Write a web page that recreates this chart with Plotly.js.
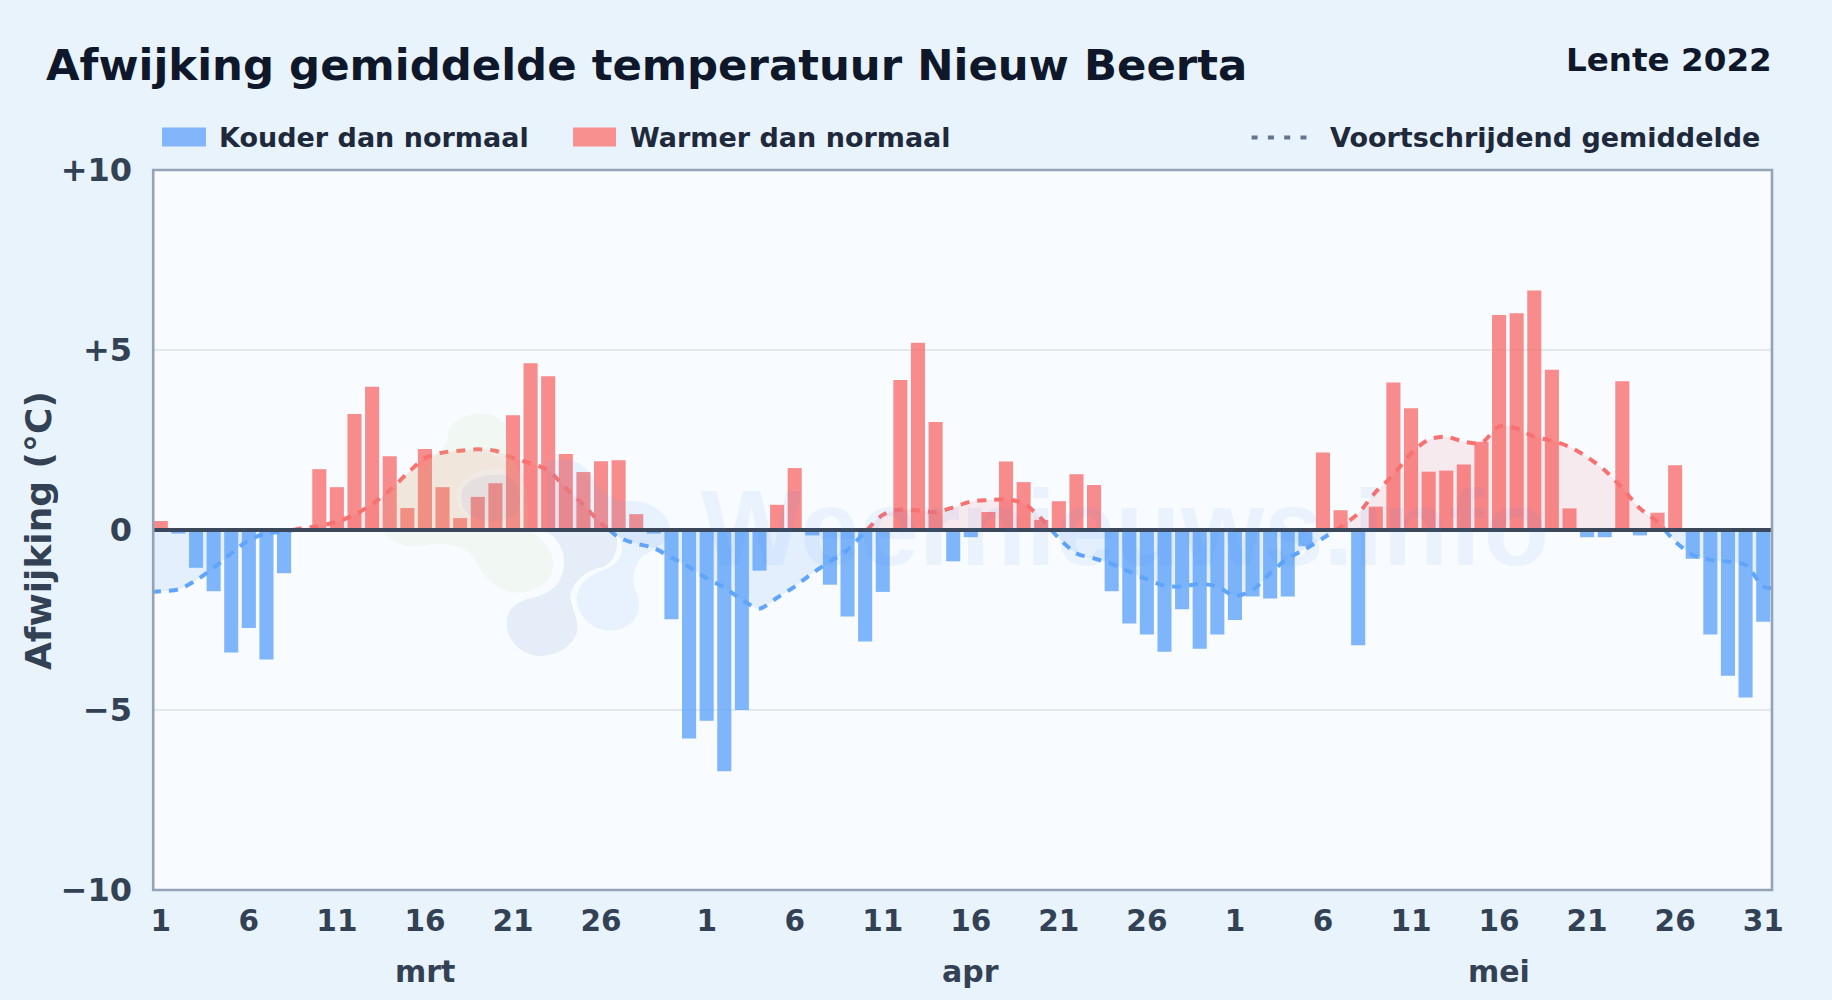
<!DOCTYPE html>
<html>
<head>
<meta charset="utf-8">
<script src="https://cdn.plot.ly/plotly-3.0.1.min.js"></script>
<style>html,body{margin:0;padding:0;background:#e8f3fc;overflow:hidden}#chart{width:1832px;height:1000px}</style>
</head>
<body>
<div id="chart"></div>
<script>
const chartTitle = "Afwijking gemiddelde temperatuur Nieuw Beerta";
const seasonLabel = "Lente 2022";
const yAxisTitle = "Afwijking (°C)";
const legendCold = "Kouder dan normaal";
const legendWarm = "Warmer dan normaal";
const legendAvg = "Voortschrijdend gemiddelde";
const watermarkText = "Weernieuws.info";

const tickDays = [0,5,10,15,20,25,31,36,41,46,51,56,61,66,71,76,81,86,91];
const tickDayLabels = ["1","6","11","16","21","26","1","6","11","16","21","26","1","6","11","16","21","26","31"];
const months = ["mrt","apr","mei"];
const monthCentres = [15,46,76];
const yTicks = [-10,-5,0,5,10];
const yTickLabels = ["−10","−5","0","+5","+10"];

const marchDeviation = [0.25,-0.1,-1.05,-1.7,-3.4,-2.72,-3.6,-1.2,0,1.69,1.19,3.22,3.98,2.05,0.61,2.25,1.19,0.33,0.92,1.30,3.19,4.63,4.27,2.11,1.61,1.91,1.94,0.44,-0.1,-2.48,-5.79];
const aprilDeviation = [-5.3,-6.7,-5.0,-1.13,0.7,1.72,-0.15,-1.52,-2.4,-3.1,-1.72,4.17,5.2,3.0,-0.87,-0.2,0.5,1.9,1.33,0.28,0.8,1.55,1.25,-1.7,-2.6,-2.9,-3.38,-2.2,-3.3,-2.9];
const mayDeviation = [-2.5,-1.85,-1.9,-1.85,-0.45,2.15,0.55,-3.2,0.65,4.1,3.38,1.62,1.65,1.82,2.45,5.97,6.02,6.65,4.45,0.6,-0.2,-0.2,4.13,-0.15,0.48,1.8,-0.8,-2.9,-4.05,-4.65,-2.55];

const marchAverage = [-1.7,-1.65,-1.4,-1.05,-0.65,-0.28,-0.1,-0.05,0.05,0.11,0.23,0.42,0.72,1.1,1.57,2.0,2.15,2.2,2.24,2.2,2.0,1.85,1.66,1.16,0.7,0.18,-0.2,-0.38,-0.5,-0.77,-1.03];
const aprilAverage = [-1.34,-1.6,-1.94,-2.18,-1.88,-1.57,-1.2,-0.88,-0.55,-0.05,0.42,0.57,0.54,0.5,0.63,0.79,0.83,0.85,0.74,0.32,-0.23,-0.65,-0.79,-0.94,-1.16,-1.37,-1.55,-1.57,-1.5,-1.57];
const mayAverage = [-1.83,-1.67,-1.2,-0.79,-0.53,-0.23,0.09,0.46,1.06,1.53,2.13,2.51,2.59,2.45,2.42,2.88,2.82,2.59,2.48,2.31,2.03,1.66,1.16,0.6,0.23,-0.32,-0.69,-0.83,-0.88,-0.97,-1.57];
const averageAtLeftEdge = -1.72;
const averageAtRightEdge = -1.62;

const deviation = marchDeviation.concat(aprilDeviation, mayDeviation);
const average = marchAverage.concat(aprilAverage, mayAverage);
const days = deviation.map((_, i) => i);

// moving average split at its zero crossings, one trace per sign
const avgX = [-0.5], avgWarm = [null], avgCold = [averageAtLeftEdge];
average.forEach((v, i) => {
  if (i > 0 && average[i-1] * v < 0) {
    const prev = average[i-1];
    avgX.push(i - 1 + prev / (prev - v));
    avgWarm.push(0); avgCold.push(0);
  }
  avgX.push(i);
  avgWarm.push(v >= 0 ? v : null);
  avgCold.push(v < 0 ? v : null);
});
avgX.push(91.5); avgWarm.push(null); avgCold.push(averageAtRightEdge);

const W = 1832, H = 1000;
const L = 152, R = 1772, T = 169.5, B = 890.4;
const fx = x => (x - L) / (R - L), fy = y => (B - y) / (B - T);

// logo watermark drawn in crop-pixel coordinates
function logoPath(pts) {
  return pts.replace(/(-?[\d.]+) (-?[\d.]+)/g, (m, a, b) =>
    fx(360 + a / 3).toFixed(5) + " " + fy(390 + b / 3).toFixed(5));
}
function blob(d, color) {
  return {type:"path", xref:"paper", yref:"paper", layer:"above", path:logoPath(d), fillcolor:color, line:{width:0}};
}
function rect(x0,x1,y0,y1,color){
  return {type:"rect", xref:"paper", yref:"paper", x0:fx(x0), x1:fx(x1), y0:fy(y0), y1:fy(y1), fillcolor:color, line:{width:0}};
}

const shapes = [
  blob("M265 130 C270 90 330 65 380 72 C430 78 450 110 445 170 C450 200 470 220 500 300 C505 380 500 420 520 430 C570 460 590 510 575 550 C555 600 480 620 430 600 C385 580 360 540 345 510 C320 465 250 455 200 465 C140 480 90 460 70 420 C40 350 90 290 120 270 C200 220 260 190 265 130 Z", "rgba(190,225,150,0.10)"),
  blob("M110 300 C130 240 200 190 290 185 C350 180 420 190 470 240 C400 220 320 240 290 300 C280 350 320 390 370 410 C300 420 180 420 120 400 C100 370 100 330 110 300 Z", "rgba(250,180,110,0.06)"),
  blob("M305 310 C310 270 370 250 430 255 C480 265 490 330 470 370 C440 400 370 400 330 375 C310 360 300 340 305 310 Z", "rgba(130,120,190,0.09)"),
  blob("M440 700 C440 650 480 630 530 620 C590 605 620 560 610 490 C600 460 580 430 555 425 L770 425 C775 470 770 510 730 530 C680 540 640 570 630 620 C635 660 660 690 650 730 C630 780 580 800 530 798 C480 790 440 750 440 700 Z", "rgba(90,140,200,0.12)"),
  blob("M560 215 C600 200 660 205 690 250 C720 300 740 320 790 335 C850 320 920 360 930 410 C925 450 890 480 850 495 C820 530 810 570 830 610 C850 660 830 710 760 722 C700 725 650 680 650 620 C655 580 690 555 730 540 C790 520 800 470 770 425 L560 425 Z", "rgba(96,165,250,0.10)"),
  {type:"line", xref:"paper", yref:"y", x0:fx(153), x1:fx(1772), y0:0, y1:0, layer:"above", line:{color:"#3b475a", width:4}},
  {type:"rect", xref:"paper", yref:"paper", x0:fx(153.2), x1:1, y0:0, y1:1, layer:"above", fillcolor:"rgba(0,0,0,0)", line:{color:"#94a3b8", width:2.6}},
  rect(162,206,127,146,"#81b6fb"),
  rect(573,616,127,146,"#f99090"),
  {type:"line", xref:"paper", yref:"paper", x0:fx(1251.6), x1:fx(1307), y0:fy(137), y1:fy(137), line:{color:"#64748b", width:4, dash:"6px,10.3px"}}
];

function note(text, x, y, size, color, anchor, extra) {
  return Object.assign({text, xref:"paper", yref:"paper", x:fx(x), y:fy(y), showarrow:false, xanchor:anchor, yanchor:"middle",
    font:{family:"DejaVu Sans", size, color, weight:700}}, extra || {});
}
const annotations = [
  note(chartTitle, 44, 64, 43.4, "#0f172a", "left"),
  note(seasonLabel, 1774, 59, 32.6, "#0f172a", "right"),
  note(legendCold, 216.7, 137, 27, "#1e293b", "left"),
  note(legendWarm, 627.7, 137, 27, "#1e293b", "left"),
  note(legendAvg, 1327.7, 137, 27, "#1e293b", "left"),
  note(yAxisTitle, 38, 530, 36, "#334155", "center", {textangle:-90}),
  {text:watermarkText, xref:"paper", yref:"paper", x:fx(1125), y:fy(528), showarrow:false, xanchor:"center", yanchor:"middle",
   font:{family:"Liberation Sans", size:107, color:"rgba(59,130,246,0.07)", weight:700}}
].concat(months.map((m, i) => ({text:m, xref:"x", yref:"paper", x:monthCentres[i], y:fy(972), showarrow:false, xanchor:"center", yanchor:"middle",
   font:{family:"DejaVu Sans", size:30, color:"#334155", weight:700}})));

const traces = [
  {type:"bar", x:days, y:deviation.map(v => v < 0 ? v : null), width:0.8, marker:{color:"rgba(96,165,250,0.8)", line:{width:0}}, name:legendCold, hoverinfo:"y"},
  {type:"bar", x:days, y:deviation.map(v => v >= 0 ? v : null), width:0.8, marker:{color:"rgba(248,113,113,0.8)", line:{width:0}}, name:legendWarm, hoverinfo:"y"},
  {type:"scatter", mode:"lines", x:avgX, y:avgCold, fill:"tozeroy", fillcolor:"rgba(96,165,250,0.13)", line:{color:"#60a5fa", width:4, dash:"9px,8px", shape:"spline", smoothing:0.8}, name:legendAvg, hoverinfo:"y"},
  {type:"scatter", mode:"lines", x:avgX, y:avgWarm, fill:"tozeroy", fillcolor:"rgba(239,68,68,0.09)", line:{color:"#f87171", width:4, dash:"9px,8px", shape:"spline", smoothing:0.8}, name:legendAvg, hoverinfo:"y"}
];

const layout = {
  width:W, height:H,
  paper_bgcolor:"#e8f3fc", plot_bgcolor:"#f8fbff",
  margin:{l:L, r:W-R, t:T, b:H-B, pad:0},
  showlegend:false, barmode:"overlay", bargap:0.2,
  font:{family:"DejaVu Sans"},
  xaxis:{range:[-0.5,91.5], tickmode:"array", tickvals:tickDays, ticktext:tickDayLabels, tickangle:0, ticks:"", showgrid:false, zeroline:false,
    showline:false, ticklabelstandoff:10,
    tickfont:{family:"DejaVu Sans", size:29.5, color:"#334155", weight:700}},
  yaxis:{range:[-10,10], tickmode:"array", tickvals:yTicks, ticktext:yTickLabels, ticks:"", showgrid:true, gridcolor:"#e2e8f0", gridwidth:2, zeroline:false,
    showline:false, ticklabelstandoff:19,
    tickfont:{family:"DejaVu Sans", size:32, color:"#334155", weight:700}},
  shapes, annotations
};
Plotly.newPlot("chart", traces, layout, {displayModeBar:false, staticPlot:true});
</script>
</body>
</html>
